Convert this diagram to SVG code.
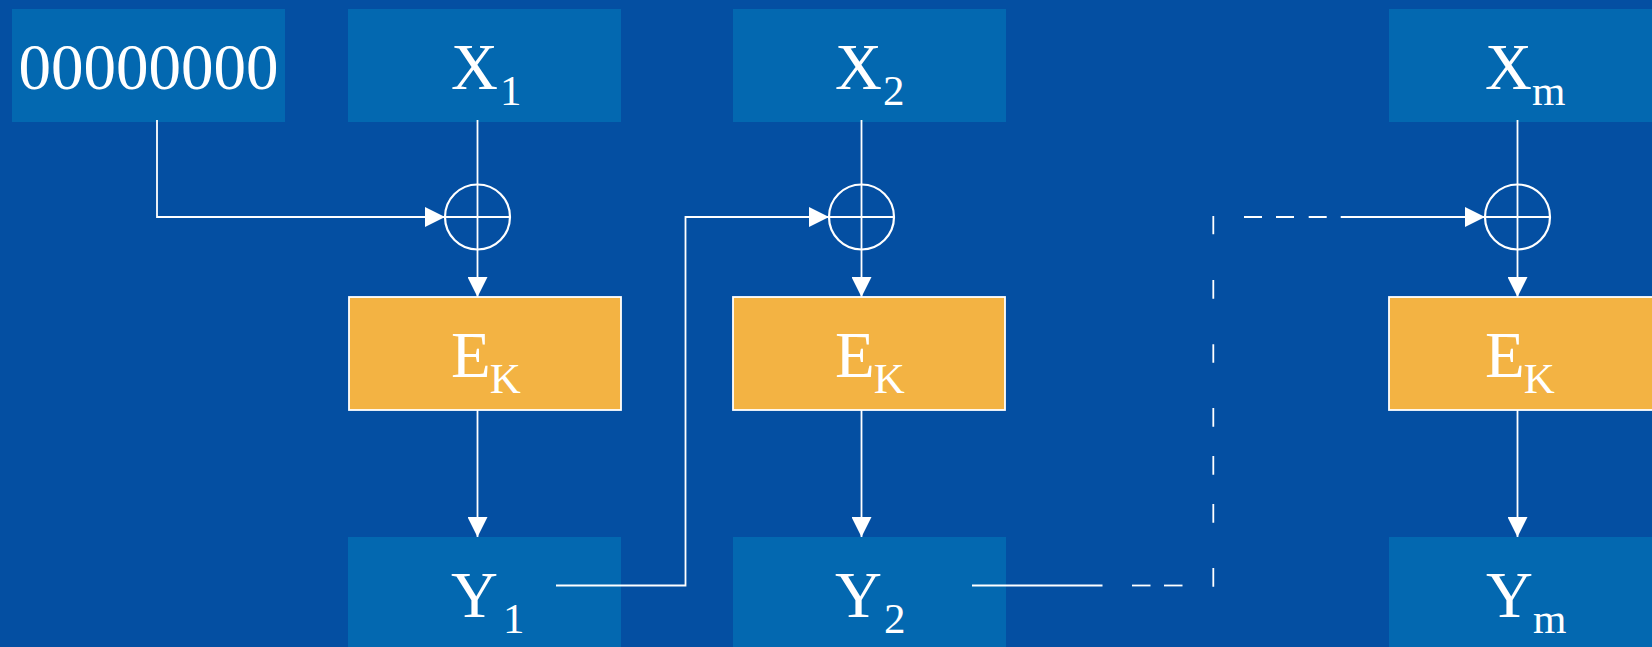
<svg xmlns="http://www.w3.org/2000/svg" width="1652" height="647" viewBox="0 0 1652 647">
<defs>
<style>
.bg{fill:#044FA2}
.blk{fill:#0368B0}
.enc{fill:#F3B343;stroke:#FFFFFF;stroke-width:1.8}
.t{font-family:"Liberation Serif","Times New Roman",serif;fill:#FFFFFF;font-size:65px}
.s{font-size:43px}
.ln{fill:none;stroke:#FFFFFF;stroke-width:1.8}
.xor{fill:none;stroke:#FFFFFF;stroke-width:2.2}
</style>
<marker id="ah" markerUnits="userSpaceOnUse" markerWidth="20" markerHeight="20" viewBox="0 0 20 20" refX="20" refY="10" orient="auto">
<path d="M0,0 L20,10 L0,20 Z" fill="#FFFFFF"/>
</marker>
</defs>
<rect class="bg" x="0" y="0" width="1652" height="647"/>

<g id="iv">
<rect class="blk" x="12" y="9" width="273" height="113"/>
<text class="t" x="148.5" y="89" text-anchor="middle">00000000</text>
</g>

<g id="x1">
<rect class="blk" x="348" y="9" width="273" height="113"/>
<text class="t" x="451" y="89">X<tspan class="s" dx="2" dy="16">1</tspan></text>
</g>
<g id="x2">
<rect class="blk" x="733" y="9" width="273" height="113"/>
<text class="t" x="835" y="89">X<tspan class="s" dx="1" dy="16">2</tspan></text>
</g>
<g id="xm">
<rect class="blk" x="1389" y="9" width="273" height="113"/>
<text class="t" x="1485" y="89">X<tspan class="s" dx="0" dy="16">m</tspan></text>
</g>

<g id="xor1">
<circle class="xor" cx="477.5" cy="217" r="32.5"/>
<line class="ln" x1="445" y1="217" x2="510" y2="217"/>
</g>
<g id="xor2">
<circle class="xor" cx="861.5" cy="217" r="32.5"/>
<line class="ln" x1="829" y1="217" x2="894" y2="217"/>
</g>
<g id="xorm">
<circle class="xor" cx="1517.5" cy="217" r="32.5"/>
<line class="ln" x1="1485" y1="217" x2="1550" y2="217"/>
</g>

<g id="e1">
<rect class="enc" x="349" y="297" width="272" height="113"/>
<text class="t" x="451" y="377">E<tspan class="s" dx="-1" dy="16">K</tspan></text>
</g>
<g id="e2">
<rect class="enc" x="733" y="297" width="272" height="113"/>
<text class="t" x="835" y="377">E<tspan class="s" dx="-1" dy="16">K</tspan></text>
</g>
<g id="em">
<rect class="enc" x="1389" y="297" width="272" height="113"/>
<text class="t" x="1485" y="377">E<tspan class="s" dx="-1" dy="16">K</tspan></text>
</g>

<g id="y1">
<rect class="blk" x="348" y="537" width="273" height="120"/>
<text class="t" x="451" y="617">Y<tspan class="s" dx="5" dy="16">1</tspan></text>
</g>
<g id="y2">
<rect class="blk" x="733" y="537" width="273" height="120"/>
<text class="t" x="835" y="617">Y<tspan class="s" dx="2" dy="16">2</tspan></text>
</g>
<g id="ym">
<rect class="blk" x="1389" y="537" width="273" height="120"/>
<text class="t" x="1486" y="617">Y<tspan class="s" dx="0" dy="16">m</tspan></text>
</g>

<g id="connectors">
<polyline class="ln" points="157,120 157,217 445,217" marker-end="url(#ah)"/>
<line class="ln" x1="477.5" y1="120" x2="477.5" y2="297" marker-end="url(#ah)"/>
<line class="ln" x1="477.5" y1="410" x2="477.5" y2="537" marker-end="url(#ah)"/>
<polyline class="ln" points="556,585.5 685.5,585.5 685.5,217 829,217" marker-end="url(#ah)"/>
<line class="ln" x1="861.5" y1="120" x2="861.5" y2="297" marker-end="url(#ah)"/>
<line class="ln" x1="861.5" y1="410" x2="861.5" y2="537" marker-end="url(#ah)"/>
<line class="ln" x1="972" y1="585.5" x2="1102.5" y2="585.5"/>
<line class="ln" x1="1132" y1="585.5" x2="1150.5" y2="585.5"/>
<line class="ln" x1="1164" y1="585.5" x2="1182.5" y2="585.5"/>
<path class="ln" d="M1213.3,216V234.3M1213.3,280V298.7M1213.3,344.3V362.7M1213.3,408V426.7M1213.3,456V474.7M1213.3,504V522.7M1213.3,568V586.7"/>
<path class="ln" d="M1244,217H1262M1276,217H1294M1308.7,217H1326.7"/>
<line class="ln" x1="1340.7" y1="217" x2="1485" y2="217" marker-end="url(#ah)"/>
<line class="ln" x1="1517.5" y1="120" x2="1517.5" y2="297" marker-end="url(#ah)"/>
<line class="ln" x1="1517.5" y1="410" x2="1517.5" y2="537" marker-end="url(#ah)"/>
</g>
</svg>
